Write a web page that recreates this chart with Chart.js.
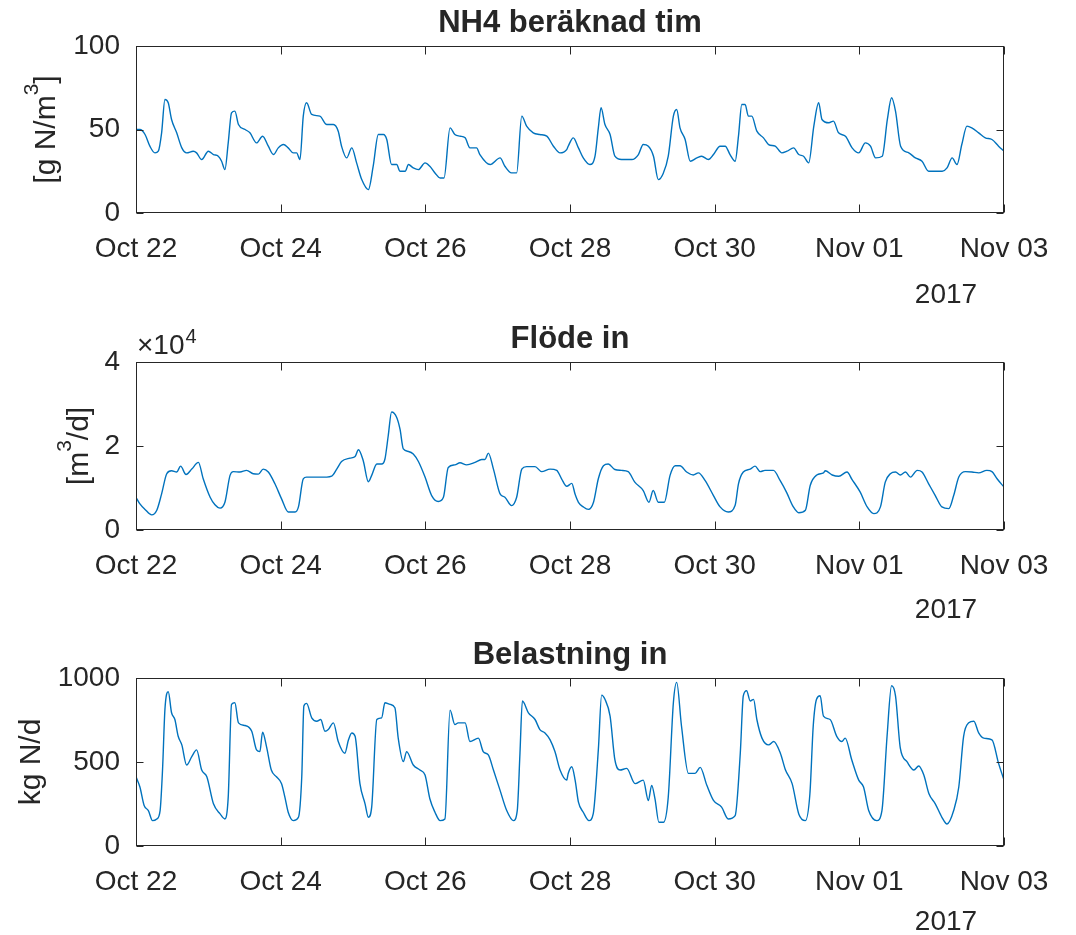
<!DOCTYPE html>
<html lang="sv">
<head>
<meta charset="UTF-8">
<title>NH4, flöde och belastning</title>
<script src="https://cdn.jsdelivr.net/npm/chart.js"></script>
<style>
    html, body { margin: 0; padding: 0; background: #fff; }
    body { width: 1076px; height: 935px; position: relative; overflow: hidden; }
    canvas { position: absolute; left: 0; }
</style>
</head>
<body>
<canvas id="nh4Chart" width="1076" height="310" style="top:0px"></canvas>
<canvas id="flowChart" width="1076" height="320" style="top:310px"></canvas>
<canvas id="loadChart" width="1076" height="305" style="top:630px"></canvas>
<script>
// time axis: hours since 2017-10-22 00:00, ticks every second day
const dayTicks = [0, 48, 96, 144, 192, 240, 288];
const dayLabels = ['Oct 22', 'Oct 24', 'Oct 26', 'Oct 28', 'Oct 30', 'Nov 01', 'Nov 03'];
const yearLabel = '2017';

const nh4Ticks = [0, 50, 100];
const flowTicks = [0, 20000, 40000];
const loadTicks = [0, 500, 1000];

// [hour, g N/m3]
const nh4 = [[0,50],[1.3,50],[3.0,47],[4.6,40],[6.3,36],[7.4,37],[8.5,48],[9.6,68],[10.7,66],[11.8,56],
  [13.5,48],[15.2,39],[16.8,36],[19.0,37],[20.1,36],[21.8,32],[24.0,37],[25.7,35],[27.3,34],[28.4,31],
  [29.5,26],[30.6,42],[31.7,60],[32.8,61],[34.0,53],[36.2,50],[37.8,48],[40.0,42],[42.0,46],[43.9,40],
  [45.6,35],[47.2,39],[48.9,41],[50.5,39],[52.2,36],[53.3,36],[54.4,32],[55.5,58],[56.6,66],[58.3,59],
  [61.0,58],[63.3,53],[65.5,53],[67.1,49],[68.2,40],[69.9,33],[71.6,39],[73.2,30],[74.9,20],[77.1,14],
  [78.7,28],[80.4,47],[82.1,47],[83.2,44],[84.8,29],[86.5,29],[87.6,25],[89.3,25],[90.4,29],[92.0,27],
  [93.7,26],[95.9,30],[97.5,28],[99.2,24],[100.9,21],[102.2,21],[104.2,51],[105.8,47],[107.5,46],[109.2,45],
  [110.8,39],[113.0,39],[114.1,35],[117.5,29],[120.8,33],[122.4,28],[124.6,24],[126.3,24],[128.0,58],[129.6,52],
  [131.8,48],[134.0,47],[136.3,46],[138.5,40],[140.7,36],[142.9,38],[143.4,40],[145.1,45],[146.8,39],[148.4,33],
  [150.6,29],[152.3,34],[153.4,51],[154.3,63],[155.6,53],[157.3,47],[158.9,34],[161.1,32],[164.5,32],[166.7,35],
  [168.3,41],[170.0,40],[171.7,34],[173.3,20],[175.0,24],[176.6,34],[178.3,58],[179.4,62],[180.5,51],[182.2,44],
  [183.9,31],[186.1,33],[187.7,34],[189.9,32],[191.6,35],[193.8,40],[195.5,40],[197.1,35],[198.8,31],[199.9,46],
  [201.0,65],[202.1,65],[203.2,58],[204.3,58],[206.0,49],[208.2,45],[209.9,41],[212.1,40],[214.3,36],[216.0,37],
  [218.2,39],[219.9,35],[221.5,34],[223.2,30],[224.9,52],[226.5,66],[227.6,56],[229.9,54],[231.4,55],[233.1,48],
  [235.4,46],[237.6,39],[239.8,36],[242.0,42],[243.7,40],[245.4,33],[247.6,34],[249.3,56],[250.7,69],[252.0,61],
  [253.7,40],[256.4,36],[258.6,33],[260.8,31],[263.0,25],[265.3,25],[267.5,25],[269.1,27],[270.8,33],[272.4,29],
  [274.0,41],[275.7,52],[277.3,51],[279.6,48],[281.8,45],[284.0,44],[286.2,40],[288.0,37]];

// [hour, m3/d]
const flow = [[0,7800],[1.3,6200],[3.0,4900],[5.2,3600],[6.9,4700],[8.5,8600],[10.2,13400],[11.8,14100],
  [13.5,13800],[14.8,15200],[16.6,13200],[18.5,14500],[20.7,16100],[22.3,12200],[24.6,7800],[26.2,6000],
  [27.9,5200],[29.5,6600],[31.2,13000],[32.3,13900],[34.5,13800],[36.7,14200],[38.9,13400],[40.6,13300],
  [42.2,14500],[43.9,13800],[46.1,11000],[48.3,7400],[50.5,4300],[52.8,4300],[53.9,5500],[55.5,12200],
  [56.6,12600],[60.0,12600],[63.3,12600],[64.9,12800],[66.6,14500],[68.2,16300],[71.0,17100],[72.7,17500],
  [73.8,19100],[75.4,16500],[77.1,11500],[78.2,13000],[79.9,15700],[81.5,15700],[82.6,16900],[83.7,22500],
  [84.8,28100],[86.5,26800],[87.6,24000],[88.7,19300],[90.4,18700],[92.0,18100],[93.7,16300],[95.9,12600],
  [98.1,8200],[100.3,6800],[102.0,7800],[103.6,14900],[105.8,15500],[107.5,16000],[109.7,15500],[112.5,16100],
  [114.7,16800],[115.8,16800],[116.9,18300],[118.6,14500],[120.8,8600],[122.4,7800],[124.6,5800],[126.3,7800],
  [128.0,14500],[129.6,15100],[132.4,15100],[134.6,13900],[137.4,14500],[139.6,14200],[141.2,12200],[142.9,10400],
  [144.6,11100],[145.7,8500],[146.8,6600],[148.4,5500],[150.1,4900],[151.8,6600],[153.4,12200],[155.1,15300],
  [156.7,15700],[158.9,14400],[161.1,14200],[163.3,13900],[165.5,11400],[168.3,9400],[170.2,6600],[171.6,9400],
  [173.3,6600],[175.3,6600],[177.2,13000],[178.9,15300],[180.5,15300],[182.7,13800],[184.9,13100],[186.6,13600],
  [188.8,11800],[191.6,8200],[193.8,5500],[196.5,4300],[198.8,5900],[199.9,11000],[201.5,13800],[203.8,14500],
  [205.4,15200],[207.1,13900],[208.7,14200],[211.5,14200],[213.7,11800],[215.9,8900],[218.1,5500],[219.9,4100],
  [222.1,4700],[223.7,10600],[225.9,13100],[228.1,13600],[228.7,14100],[231.0,13100],[233.2,12800],[235.9,13800],
  [237.6,12000],[240.3,9000],[242.6,5500],[244.8,3900],[247.0,5500],[248.6,11400],[250.3,13400],[252.0,13800],
  [253.6,13100],[255.3,13800],[257.0,12600],[259.2,14200],[260.8,13800],[263.0,11000],[265.2,8200],[267.4,5500],
  [269.7,5100],[271.3,8200],[273.0,12600],[275.2,13900],[277.4,13800],[279.6,13600],[282.3,14200],[284.0,13900],
  [285.7,12200],[288.0,10200]];

// [hour, kg N/d]
const load = [[0,412],[1.3,351],[2.7,241],[4.1,211],[5.5,151],[6.9,161],[8.0,211],[8.8,452],[9.6,813],[10.7,918],
  [11.8,793],[12.9,753],[14.0,653],[15.2,602],[16.8,482],[18.5,532],[20.1,572],[21.8,452],[23.5,412],[25.7,251],
  [27.9,191],[29.5,161],[30.6,291],[31.7,843],[32.8,853],[34.0,733],[36.2,717],[38.4,683],[40.0,572],[41.1,562],
  [42.0,677],[43.3,592],[44.9,452],[46.6,412],[48.3,371],[49.4,291],[50.5,201],[52.2,151],[53.9,171],[55.0,412],
  [55.7,833],[56.6,849],[58.3,763],[60.0,743],[61.3,753],[62.7,683],[63.8,693],[65.5,733],[67.1,622],[69.3,552],
  [70.5,632],[71.6,673],[72.7,653],[74.3,371],[76.0,251],[77.1,171],[78.2,231],[79.9,753],[81.5,763],[82.6,853],
  [84.3,843],[85.9,823],[87.0,643],[88.7,502],[89.8,562],[92.0,482],[94.2,452],[95.9,422],[97.5,281],[99.2,201],
  [100.9,151],[102.5,161],[104.2,809],[105.8,723],[106.9,733],[109.2,733],[110.8,622],[113.6,642],[115.2,562],[116.9,542],
  [118.6,452],[120.8,331],[123.0,211],[125.2,151],[126.5,211],[127.4,552],[128.2,863],[130.2,793],[132.4,753],[134.0,693],
  [135.7,673],[137.4,632],[139.0,562],[140.7,452],[142.9,392],[143.4,432],[144.6,472],[145.7,392],[146.8,261],[148.4,201],
  [150.3,151],[151.7,191],[153.4,572],[154.5,898],[155.6,873],[157.3,773],[158.9,512],[160.6,452],[162.8,462],[165.6,371],
  [168.3,392],[170.0,271],[171.1,361],[172.2,281],[173.5,141],[175.0,141],[176.6,291],[178.3,853],[179.4,974],[181.0,713],
  [183.3,432],[185.5,432],[187.2,468],[189.4,361],[191.6,271],[194.3,231],[196.5,161],[198.8,181],[200.5,552],[201.5,894],
  [202.6,924],[203.8,863],[204.9,873],[206.0,753],[207.7,642],[209.9,602],[211.6,622],[213.8,552],[215.5,452],[217.7,371],
  [219.9,191],[222.1,151],[223.6,311],[224.7,713],[225.8,873],[227.0,894],[228.1,773],[230.3,753],[232.5,653],[234.2,622],
  [235.3,642],[237.5,512],[239.8,392],[241.4,351],[243.1,211],[245.8,151],[247.5,211],[249.2,653],[250.7,954],[252.0,894],
  [253.6,582],[255.8,502],[258.1,452],[259.7,476],[261.4,422],[263.1,311],[265.2,251],[267.4,171],[269.1,131],[271.3,211],
  [273.0,351],[274.6,653],[276.3,733],[278.0,743],[279.6,673],[281.3,642],[284.0,632],[286.2,492],[288.0,392]];

const FONT = "'Liberation Sans', Arial, Helvetica, sans-serif";
const INK = '#262626';
const LINE = '#0072BD';

Chart.defaults.font.family = FONT;
Chart.defaults.color = INK;

// draws the MATLAB-like box, inward ticks and the extra labels
const axesBox = {
    id: 'axesBox',
    afterDraw(chart, args, o) {
        const { ctx, chartArea: a, scales: { x, y } } = chart;
        ctx.save();
        ctx.strokeStyle = INK;
        ctx.lineWidth = 1;
        const L = Math.round(a.left) + 0.5, R = Math.round(a.right) - 0.5;
        const T = Math.round(a.top) + 0.5, B = Math.round(a.bottom) - 0.5;
        ctx.strokeRect(L, T, R - L, B - T);
        ctx.beginPath();
        x.ticks.forEach(t => {
            const px = Math.round(x.getPixelForValue(t.value)) + 0.5;
            ctx.moveTo(px, B); ctx.lineTo(px, B - 8);
            ctx.moveTo(px, T); ctx.lineTo(px, T + 8);
        });
        y.ticks.forEach(t => {
            const py = Math.round(y.getPixelForValue(t.value)) + 0.5;
            ctx.moveTo(L, py); ctx.lineTo(L + 7, py);
            ctx.moveTo(R, py); ctx.lineTo(R - 7, py);
        });
        ctx.stroke();

        ctx.fillStyle = INK;
        // title
        ctx.font = 'bold 31px ' + FONT;
        ctx.textAlign = 'center';
        ctx.textBaseline = 'alphabetic';
        ctx.fillText(o.title, (a.left + a.right) / 2, a.top - 14);

        // year under the last date label
        ctx.font = '28px ' + FONT;
        ctx.fillText(yearLabel, 946, a.bottom + o.yearOffset);

        // exponent marker
        if (o.exponent) {
            ctx.textAlign = 'left';
            ctx.font = '28px ' + FONT;
            ctx.fillText('\u00d710', a.left + 1, a.top - 8);
            const w = ctx.measureText('\u00d710').width;
            ctx.font = '20px ' + FONT;
            ctx.fillText(o.exponent, a.left + 2 + w, a.top - 19);
        }

        // rotated y label, parts may be superscript
        ctx.translate(o.ylabelX, (a.top + a.bottom) / 2);
        ctx.rotate(-Math.PI / 2);
        ctx.textAlign = 'left';
        const fontFor = p => (p[1] ? '21px ' : '30px ') + FONT;
        let total = 0;
        o.ylabel.forEach(p => { ctx.font = fontFor(p); total += ctx.measureText(p[0]).width; });
        let cx = -total / 2;
        o.ylabel.forEach(p => {
            ctx.font = fontFor(p);
            ctx.fillText(p[0], cx, p[1] ? -17 : 0);
            cx += ctx.measureText(p[0]).width;
        });
        ctx.restore();
    }
};

function makePanel(id, series, yTicks, fmt, top, xHeight, box) {
    const ctx = document.getElementById(id).getContext('2d');
    return new Chart(ctx, {
        type: 'line',
        data: {
            datasets: [{
                data: series.map(([h, v]) => ({ x: h, y: v })),
                borderColor: LINE,
                borderWidth: 1.4,
                pointRadius: 0,
                cubicInterpolationMode: 'monotone',
                fill: false
            }]
        },
        options: {
            responsive: false,
            animation: false,
            events: [],
            layout: { padding: { top: top, right: 72, left: 0, bottom: 0 } },
            plugins: { legend: { display: false }, tooltip: { enabled: false }, axesBox: box },
            scales: {
                x: {
                    type: 'linear',
                    min: dayTicks[0],
                    max: dayTicks[dayTicks.length - 1],
                    afterBuildTicks: s => { s.ticks = dayTicks.map(v => ({ value: v })); },
                    afterFit: s => { s.height = xHeight; },
                    grid: { display: false, drawTicks: false },
                    border: { display: false },
                    ticks: {
                        autoSkip: false, maxRotation: 0, padding: 19,
                        font: { size: 28 }, color: INK,
                        callback: v => dayLabels[dayTicks.indexOf(v)]
                    }
                },
                y: {
                    min: yTicks[0],
                    max: yTicks[yTicks.length - 1],
                    afterBuildTicks: s => { s.ticks = yTicks.map(v => ({ value: v })); },
                    afterFit: s => { s.width = 136; },
                    grid: { display: false, drawTicks: false },
                    border: { display: false },
                    ticks: { padding: 16, font: { size: 28 }, color: INK, callback: fmt }
                }
            }
        },
        plugins: [axesBox]
    });
}

makePanel('nh4Chart', nh4, nh4Ticks, v => v, 46, 310 - 213, {
    title: 'NH4 beräknad tim', yearOffset: 90, ylabelX: 55,
    ylabel: [['[g N/m', false], ['3', true], [']', false]]
});
makePanel('flowChart', flow, flowTicks, v => v / 10000, 52, 320 - 220, {
    title: 'Flöde in', yearOffset: 88, ylabelX: 88, exponent: '4',
    ylabel: [['[m', false], ['3', true], ['/d]', false]]
});
makePanel('loadChart', load, loadTicks, v => v, 48, 305 - 216, {
    title: 'Belastning in', yearOffset: 84, ylabelX: 40,
    ylabel: [['kg N/d', false]]
});
</script>
</body>
</html>
